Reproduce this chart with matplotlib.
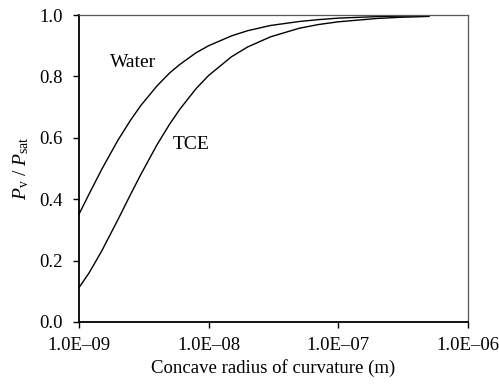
import matplotlib
matplotlib.use("Agg")
import matplotlib.pyplot as plt

plt.rcParams["font.family"] = ["Liberation Serif", "DejaVu Serif"]
plt.rcParams["mathtext.fontset"] = "custom"
plt.rcParams["mathtext.rm"] = "Liberation Serif"
plt.rcParams["mathtext.it"] = "Liberation Serif:italic"

# radius of curvature (m)
radius = [1.0e-9, 1.2e-9, 1.5e-9, 2e-9, 2.5e-9, 3e-9, 4e-9, 5e-9, 6e-9, 8e-9,
          1e-8, 1.5e-8, 2e-8, 3e-8, 5e-8, 7e-8, 1e-7, 2e-7, 3e-7, 5e-7]
water = [0.350, 0.417, 0.497, 0.592, 0.657, 0.705, 0.769, 0.811, 0.839, 0.877,
         0.900, 0.932, 0.949, 0.966, 0.979, 0.985, 0.990, 0.995, 0.9965, 0.998]
tce = [0.111, 0.160, 0.231, 0.333, 0.415, 0.480, 0.577, 0.644, 0.693, 0.760,
       0.803, 0.864, 0.896, 0.929, 0.957, 0.969, 0.978, 0.989, 0.9927, 0.9956]

xticks = [1e-9, 1e-8, 1e-7, 1e-6]
xticklabels = ["1.0E\u201309", "1.0E\u201308", "1.0E\u201307", "1.0E\u201306"]
yticks = [0.0, 0.2, 0.4, 0.6, 0.8, 1.0]

fig = plt.figure(figsize=(4.99, 3.86), dpi=100)
ax = fig.add_axes([0.158, 0.166, 0.780, 0.795])

ax.plot(radius, water, color="black", linewidth=1.0)
ax.plot(radius, tce, color="black", linewidth=1.0)

ax.set_xscale("log")
ax.set_xlim(1e-9, 1e-6)
ax.set_ylim(0, 1.0)
ax.set_xticks(xticks)
ax.set_xticklabels(xticklabels)
ax.minorticks_off()
ax.set_yticks(yticks)
ax.set_yticklabels([f"{v:.1f}" for v in yticks])
ax.tick_params(direction="out", length=4.5, width=1, labelsize=13.5)
ax.tick_params(axis="x", pad=6)
ax.tick_params(axis="y", pad=7)

for side in ("left", "bottom"):
    ax.spines[side].set_linewidth(1.3)
    ax.spines[side].set_color("black")
for side in ("top", "right"):
    ax.spines[side].set_linewidth(0.9)
    ax.spines[side].set_color("#555555")

ax.text(2.6e-9, 0.847, "Water", ha="center", va="center", fontsize=14)
ax.text(7.3e-9, 0.577, "TCE", ha="center", va="center", fontsize=14)

ax.set_xlabel("Concave radius of curvature (m)", fontsize=13.5, labelpad=4)
ax.set_ylabel(r"$P_{\rm v}$ / $P_{\rm sat}$", fontsize=14, labelpad=6)

fig.savefig("out.png", dpi=100)
